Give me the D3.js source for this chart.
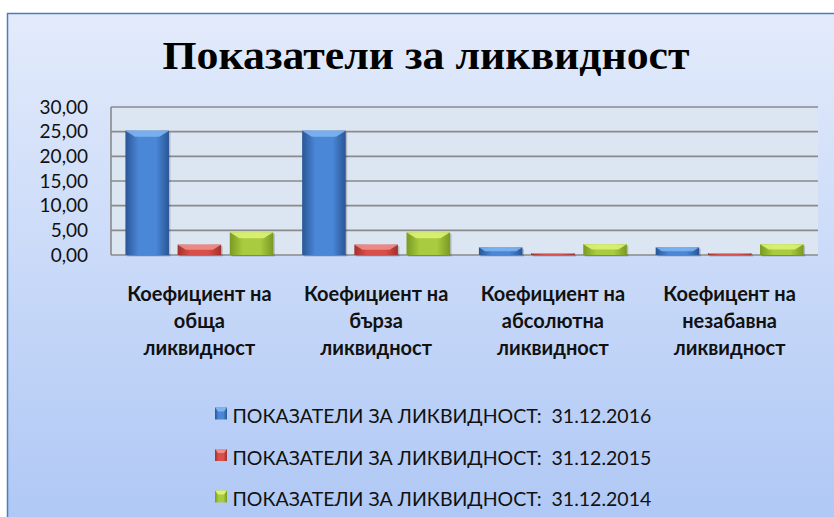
<!DOCTYPE html>
<html>
<head>
<meta charset="utf-8">
<script src="https://cdn.jsdelivr.net/npm/d3@7"></script>
<style>
  html, body { margin: 0; padding: 0; background: #fff; }
  svg { display: block; }
</style>
</head>
<body>
<script>
const categories = ['Коефициент на обща ликвидност', 'Коефициент на бърза ликвидност',
  'Коефициент на абсолютна ликвидност', 'Коефицент на незабавна ликвидност']
const categoryLines = [
  ['Коефициент на', 'обща', 'ликвидност'],
  ['Коефициент на', 'бърза', 'ликвидност'],
  ['Коефициент на', 'абсолютна', 'ликвидност'],
  ['Коефицент на', 'незабавна', 'ликвидност']
]
const seriesNames = ['ПОКАЗАТЕЛИ ЗА ЛИКВИДНОСТ:  31.12.2016',
  'ПОКАЗАТЕЛИ ЗА ЛИКВИДНОСТ:  31.12.2015',
  'ПОКАЗАТЕЛИ ЗА ЛИКВИДНОСТ:  31.12.2014']
const values2016 = [25.2, 25.2, 1.55, 1.55]
const values2015 = [2.1, 2.1, 0.4, 0.4]
const values2014 = [4.6, 4.6, 2.2, 2.2]
const yTicks = [0, 5, 10, 15, 20, 25, 30]

const seriesValues = [values2016, values2015, values2014]
// body edge, body center, top bevel
const palette = [
  { edge: '#2a5596', mid: '#4a87d6', top: '#7db4f2' },
  { edge: '#a2302c', mid: '#d9504b', top: '#f08e89' },
  { edge: '#789a22', mid: '#a9cb3f', top: '#dcf276' }
]

const w = 834, h = 517
const plot = { left: 111, right: 818, top: 107, bottom: 255 }

const svg = d3.select('body').append('svg')
  .attr('width', w).attr('height', h)
  .style('font-family', 'Lato, "Open Sans", sans-serif')

const defs = svg.append('defs')
const bg = defs.append('linearGradient').attr('id', 'bg')
  .attr('x1', 0).attr('y1', 0).attr('x2', 0).attr('y2', 1)
bg.append('stop').attr('offset', '0%').attr('stop-color', '#e3ebfb')
bg.append('stop').attr('offset', '100%').attr('stop-color', '#aec7f5')

palette.forEach((p, i) => {
  const g = defs.append('linearGradient').attr('id', 'bar' + i)
    .attr('x1', 0).attr('y1', 0).attr('x2', 1).attr('y2', 0)
  g.append('stop').attr('offset', '0%').attr('stop-color', p.edge)
  g.append('stop').attr('offset', '30%').attr('stop-color', p.mid)
  g.append('stop').attr('offset', '70%').attr('stop-color', p.mid)
  g.append('stop').attr('offset', '100%').attr('stop-color', p.edge)
})

// chart frame
svg.append('rect')
  .attr('x', 7.5).attr('y', 13.5)
  .attr('width', 840).attr('height', 520)
  .attr('fill', 'url(#bg)')
  .attr('stroke', '#4a7ebb').attr('stroke-width', 1.5)

svg.append('text')
  .attr('x', 426).attr('y', 69)
  .attr('text-anchor', 'middle')
  .style('font-family', '"Liberation Serif", "DejaVu Serif", serif')
  .style('font-weight', 'bold')
  .style('font-size', '40px')
  .attr('textLength', 527)
  .attr('lengthAdjust', 'spacingAndGlyphs')
  .text('Показатели за ликвидност')

const y = d3.scaleLinear().domain([0, 30]).range([plot.bottom, plot.top])
const x0 = d3.scaleBand().domain(categories).range([plot.left, plot.right])
  .paddingInner(0.163).paddingOuter(0.0815)
const x1 = d3.scaleBand().domain(d3.range(3)).range([0, x0.bandwidth()])
  .paddingInner(0.165)

svg.append('rect')
  .attr('x', plot.left).attr('y', plot.top)
  .attr('width', plot.right - plot.left).attr('height', plot.bottom - plot.top)
  .attr('fill', '#dce6f2')

svg.append('g')
  .selectAll('line')
  .data(yTicks)
  .join('line')
  .attr('x1', plot.left).attr('x2', plot.right)
  .attr('y1', d => y(d)).attr('y2', d => y(d))
  .attr('stroke', '#8a8a8a').attr('stroke-width', 1.6)

svg.append('line')
  .attr('x1', plot.left).attr('x2', plot.left)
  .attr('y1', plot.top).attr('y2', plot.bottom)
  .attr('stroke', '#8a8a8a').attr('stroke-width', 1.6)

svg.append('g')
  .selectAll('text')
  .data(yTicks)
  .join('text')
  .attr('x', 88).attr('y', d => y(d))
  .attr('dy', '0.35em')
  .attr('text-anchor', 'end')
  .style('font-size', '19px')
  .attr('fill', '#111')
  .text(d => d3.format('.2f')(d).replace('.', ','))

// bars
const bars = []
categories.forEach((c, ci) => {
  seriesValues.forEach((vals, si) => {
    bars.push({ c, si, v: vals[ci] })
  })
})

const barG = svg.append('g')
  .selectAll('g')
  .data(bars)
  .join('g')

barG.append('rect')
  .attr('x', d => x0(d.c) + x1(d.si) + 1.5)
  .attr('y', d => y(d.v) + 1.5)
  .attr('width', x1.bandwidth())
  .attr('height', d => y(0) - y(d.v))
  .attr('fill', 'rgba(0,0,0,0.18)')

barG.append('rect')
  .attr('x', d => x0(d.c) + x1(d.si))
  .attr('y', d => y(d.v))
  .attr('width', x1.bandwidth())
  .attr('height', d => y(0) - y(d.v))
  .attr('fill', d => 'url(#bar' + d.si + ')')

barG.append('path')
  .attr('d', d => {
    const bx = x0(d.c) + x1(d.si)
    const bw = x1.bandwidth()
    const top = y(d.v)
    const bev = Math.min(6, (y(0) - y(d.v)) / 2)
    return `M${bx},${top}L${bx + bw},${top}L${bx + bw - bev * 1.6},${top + bev}L${bx + bev * 1.6},${top + bev}Z`
  })
  .attr('fill', d => palette[d.si].top)
  .attr('opacity', 0.9)

// category labels
const catG = svg.append('g')
  .selectAll('text')
  .data(categories)
  .join('text')
  .attr('text-anchor', 'middle')
  .style('font-size', '20px')
  .style('font-weight', 'bold')
  .attr('fill', '#111')

catG.selectAll('tspan')
  .data((d, i) => categoryLines[i].map(t => ({ t, c: d })))
  .join('tspan')
  .attr('x', d => x0(d.c) + x0.bandwidth() / 2)
  .attr('y', (d, i) => 301 + i * 27)
  .text(d => d.t)

// legend
const legend = svg.append('g')
  .selectAll('g')
  .data(seriesNames)
  .join('g')
  .attr('transform', (d, i) => `translate(215, ${423 + i * 41.5})`)

legend.append('rect')
  .attr('x', 0).attr('y', -15.5)
  .attr('width', 12).attr('height', 12)
  .attr('fill', (d, i) => 'url(#bar' + i + ')')
legend.append('path')
  .attr('d', 'M0,-15.5L12,-15.5L9,-11.5L3,-11.5Z')
  .attr('fill', (d, i) => palette[i].top)

legend.append('text')
  .attr('x', 17.5).attr('y', 0)
  .style('font-size', '19.5px')
  .attr('fill', '#111')
  .style('white-space', 'pre')
  .attr('xml:space', 'preserve')
  .text(d => d)
</script>
</body>
</html>
